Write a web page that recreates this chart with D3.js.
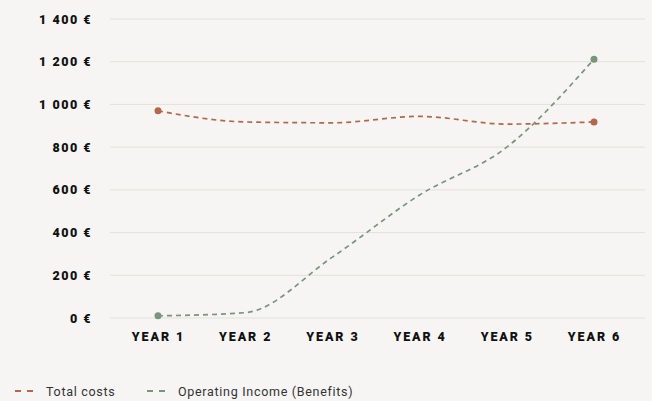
<!DOCTYPE html>
<html>
<head>
<meta charset="utf-8">
<script src="https://cdn.jsdelivr.net/npm/d3@7"></script>
<style>
  body { margin: 0; background: #f6f5f3; }
  svg { display: block; }
</style>
</head>
<body>
<script>
const years = ["YEAR 1", "YEAR 2", "YEAR 3", "YEAR 4", "YEAR 5", "YEAR 6"];
const totalCosts = [970, 918, 914, 944, 908, 918];
const operatingIncome = [10, 25, 285, 576, 800, 1212];
const yTicks = [0, 200, 400, 600, 800, 1000, 1200, 1400];
const seriesNames = ["Total costs", "Operating Income (Benefits)"];

const width = 652;
const height = 401;
const costColor = "#b4684b";
const incomeColor = "#7a957a";

const svg = d3.select("body")
  .append("svg")
  .attr("width", width)
  .attr("height", height)
  .style("background-color", "#f6f5f3");

const x = d3.scalePoint()
  .domain(years)
  .range([158, 594]);

const y = d3.scaleLinear()
  .domain([0, 1400])
  .range([318, 19]);

const fmt = d => d3.format(",")(d).replace(/,/g, " ") + " €";

// grid lines
svg.append("g")
  .selectAll("line")
  .data(yTicks)
  .enter()
  .append("line")
  .attr("x1", 110)
  .attr("x2", 645)
  .attr("y1", d => y(d))
  .attr("y2", d => y(d))
  .attr("stroke", "#e4e1db")
  .attr("stroke-width", 1);

// y axis labels
const yAxis = svg.append("g")
  .attr("transform", "translate(92,0)")
  .call(d3.axisLeft(y).tickValues(yTicks).tickFormat(fmt).tickSize(0).tickPadding(0));
yAxis.select(".domain").remove();
yAxis.selectAll("text")
  .attr("fill", "#111")
  .style("font-family", "Roboto, sans-serif")
  .style("font-weight", "900")
  .style("font-size", "12.5px")
  .style("letter-spacing", "1.5px");

// x axis labels
const xAxis = svg.append("g")
  .attr("transform", "translate(0,332)")
  .call(d3.axisBottom(x).tickSize(0).tickPadding(0));
xAxis.select(".domain").remove();
xAxis.selectAll("text")
  .attr("fill", "#111")
  .style("font-family", "Roboto, sans-serif")
  .style("font-weight", "900")
  .style("font-size", "12.5px")
  .style("letter-spacing", "1.9px");

const line = d3.line()
  .x((d, i) => x(years[i]))
  .y(d => y(d))
  .curve(d3.curveMonotoneX);

function drawSeries(values, color) {
  svg.append("path")
    .datum(values)
    .attr("d", line)
    .attr("fill", "none")
    .attr("stroke", color)
    .attr("stroke-width", 1.7)
    .attr("stroke-dasharray", "5,4");

  const ends = [0, values.length - 1];
  svg.selectAll(null)
    .data(ends)
    .enter()
    .append("circle")
    .attr("cx", i => x(years[i]))
    .attr("cy", i => y(values[i]))
    .attr("r", 3.5)
    .attr("fill", color);
}

drawSeries(totalCosts, costColor);
drawSeries(operatingIncome, incomeColor);

// legend
const legend = svg.append("g").attr("transform", "translate(0,391)");
const legendX = [15, 147];
[costColor, incomeColor].forEach((c, i) => {
  const g = legend.append("g").attr("transform", `translate(${legendX[i]},0)`);
  g.append("line")
    .attr("x1", 0).attr("x2", 18)
    .attr("y1", 0).attr("y2", 0)
    .attr("stroke", c)
    .attr("stroke-width", 2)
    .attr("stroke-dasharray", "6,6");
  g.append("text")
    .attr("x", 31)
    .attr("y", 4.5)
    .attr("fill", "#333")
    .style("font-family", "Roboto, sans-serif")
    .style("font-size", "12.5px")
    .style("letter-spacing", "0.7px")
    .text(seriesNames[i]);
});
</script>
</body>
</html>
